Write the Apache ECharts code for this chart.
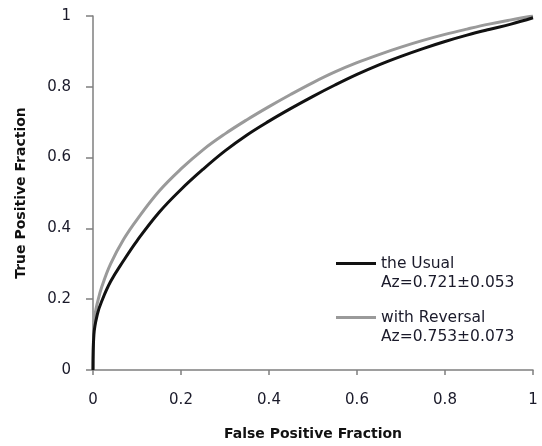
<!DOCTYPE html>
<html>
<head>
<meta charset="utf-8">
<script src="https://cdn.jsdelivr.net/npm/echarts@6/dist/echarts.min.js"></script>
<style>html,body{margin:0;padding:0;background:#fff;}#c{width:542px;height:446px;}</style>
</head>
<body>
<div id="c"></div>
<script>
const xTicks = [0, 0.2, 0.4, 0.6, 0.8, 1];
const yTicks = [0, 0.2, 0.4, 0.6, 0.8, 1];
const usualFPF = [0, 0.002, 0.01, 0.02, 0.04, 0.07, 0.1, 0.15, 0.2, 0.25, 0.3, 0.35, 0.4, 0.45, 0.5, 0.55, 0.6, 0.65, 0.7, 0.75, 0.8, 0.85, 0.9, 0.95, 1];
const usualTPF = [0, 0.1, 0.158, 0.195, 0.25, 0.31, 0.365, 0.445, 0.51, 0.567, 0.619, 0.664, 0.703, 0.739, 0.773, 0.805, 0.835, 0.862, 0.886, 0.908, 0.928, 0.946, 0.962, 0.977, 0.995];
const revFPF = [0, 0.002, 0.005, 0.01, 0.02, 0.04, 0.07, 0.1, 0.15, 0.2, 0.25, 0.3, 0.35, 0.4, 0.45, 0.5, 0.55, 0.6, 0.65, 0.7, 0.75, 0.8, 0.85, 0.9, 0.95, 1];
const revTPF = [0, 0.12, 0.16, 0.19, 0.235, 0.3, 0.37, 0.425, 0.505, 0.568, 0.622, 0.667, 0.707, 0.744, 0.779, 0.812, 0.842, 0.868, 0.891, 0.912, 0.931, 0.948, 0.963, 0.977, 0.989, 1];
const seriesNames = ['the Usual', 'with Reversal'];
const azText = ['Az=0.721\u00b10.053', 'Az=0.753\u00b10.073'];

const pairs = (xs, ys) => xs.map((x, i) => [x, ys[i]]);
const chart = echarts.init(document.getElementById('c'));
const font = 'DejaVu Sans, Verdana, sans-serif';
const fmt = ticks => v => String(ticks.find(t => Math.abs(t - v) < 1e-9) ?? v);
chart.setOption({
  animation: false,
  backgroundColor: '#ffffff',
  grid: { left: 93, right: 9, top: 16, bottom: 73 },
  xAxis: {
    type: 'value', min: 0, max: 1, interval: 0.2,
    name: 'False Positive Fraction', nameLocation: 'middle', nameGap: 57,
    nameTextStyle: { fontFamily: font, fontWeight: 'bold', fontSize: 14, color: '#111' },
    axisLine: { lineStyle: { color: '#7f7f7f', width: 1.5 } },
    axisTick: { length: 5, lineStyle: { color: '#7f7f7f', width: 1.5 } },
    axisLabel: { margin: 23, fontFamily: font, fontSize: 15, color: '#1a1a2a', formatter: fmt(xTicks) },
    splitLine: { show: false }
  },
  yAxis: {
    type: 'value', min: 0, max: 1, interval: 0.2,
    name: 'True Positive Fraction', nameLocation: 'middle', nameGap: 65,
    nameTextStyle: { fontFamily: font, fontWeight: 'bold', fontSize: 14, color: '#111' },
    axisLine: { show: true, lineStyle: { color: '#7f7f7f', width: 1.5 } },
    axisTick: { show: true, length: 7, lineStyle: { color: '#7f7f7f', width: 1.5 } },
    axisLabel: { margin: 22, fontFamily: font, fontSize: 15, color: '#1a1a2a', formatter: fmt(yTicks) },
    splitLine: { show: false }
  },
  legend: {
    orient: 'vertical', left: 336, top: 235, padding: 0,
    itemWidth: 40, itemHeight: 3, itemGap: -3, icon: 'rect',
    data: seriesNames,
    formatter: name => ' \n' + name + '\n' + azText[seriesNames.indexOf(name)],
    textStyle: { fontFamily: font, fontSize: 15.5, color: '#1a1a2a', lineHeight: 19 },
    itemStyle: { borderWidth: 0 }
  },
  series: [
    { name: seriesNames[0], type: 'line', data: pairs(usualFPF, usualTPF), showSymbol: false,
      smooth: 0.4, lineStyle: { color: '#111111', width: 3 }, itemStyle: { color: '#111111' }, z: 3 },
    { name: seriesNames[1], type: 'line', data: pairs(revFPF, revTPF), showSymbol: false,
      smooth: 0.4, lineStyle: { color: '#9a9a9a', width: 3 }, itemStyle: { color: '#9a9a9a' }, z: 2 }
  ]
});
</script>
</body>
</html>
